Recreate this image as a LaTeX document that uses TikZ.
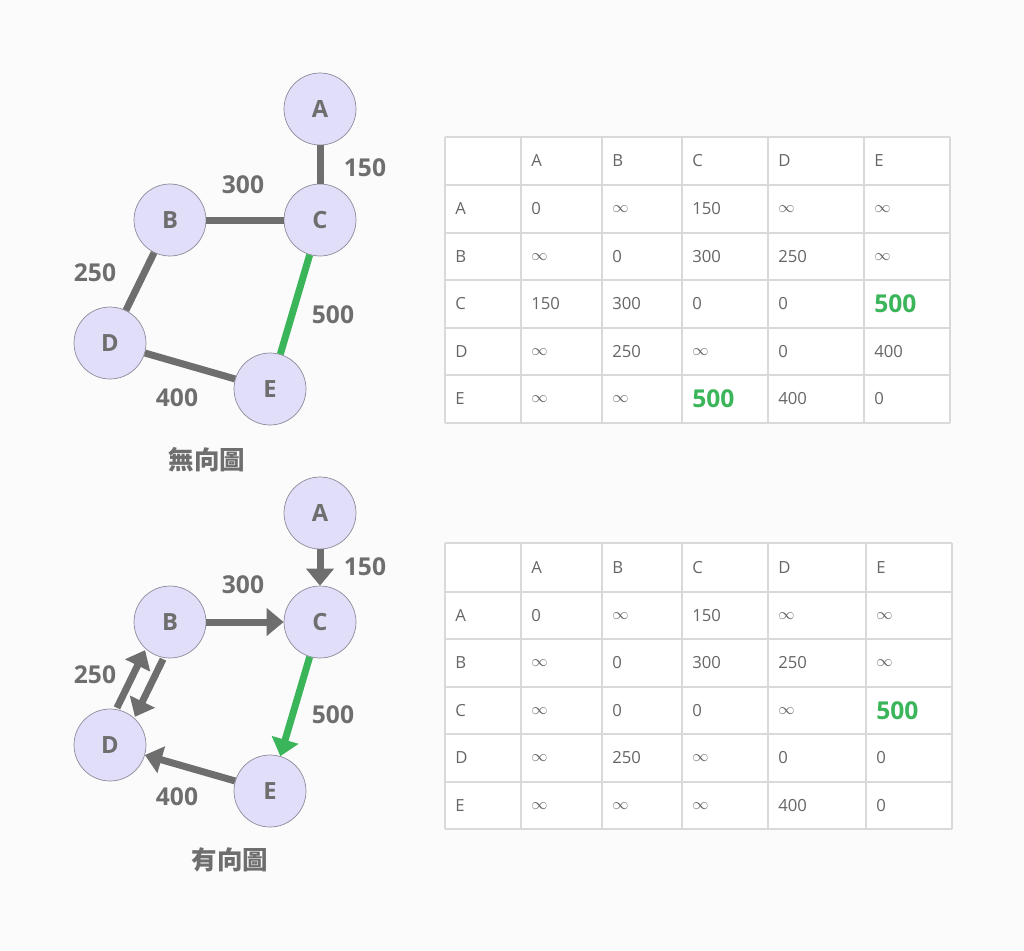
\documentclass[tikz,border=0pt]{standalone}
\usepackage{fontspec}
\setmainfont{Open Sans}
\newfontfamily\cjk{Noto Sans CJK TC}
\usetikzlibrary{positioning,arrows.meta}

\definecolor{edgegray}{HTML}{6E6E6E}
\definecolor{pathgreen}{HTML}{3BB55A}
\definecolor{nodefill}{HTML}{E1DEFA}
\definecolor{nodeline}{HTML}{8C8A99}
\definecolor{gridgray}{HTML}{D9D9D9}
\definecolor{celltext}{HTML}{666666}
\definecolor{bg}{HTML}{FBFBFB}

\newcommand{\infsym}{\ensuremath{\infty}}
\newcommand{\hl}[1]{{\color{pathgreen}\fontsize{14}{14}\selectfont\bfseries #1}}

\begin{document}
\begin{tikzpicture}[
  x=0.02cm, y=-0.02cm,
  vertex/.style={circle, draw=nodeline, fill=nodefill, minimum size=1.44cm, inner sep=0pt, font=\fontsize{13.5}{14}\selectfont\bfseries, text=edgegray},
  edge/.style={draw=edgegray, line width=0.14cm},
  arrow/.style={edge, -{Triangle[width=0.54cm, length=0.34cm]}},
  weight/.style={font=\fontsize{14}{14}\selectfont\bfseries, text=edgegray},
  caption/.style={font=\cjk\fontsize{14.5}{15}\selectfont\bfseries, text=edgegray},
  cell/.style={anchor=west, inner sep=0pt, font=\fontsize{9.5}{10}\selectfont, text=celltext},
  grid/.style={draw=gridgray, line width=0.6pt}
]
  \fill[bg] (0,0) rectangle (1024,950);
  \useasboundingbox (0,0) rectangle (1024,950);

  % undirected graph
  \node[vertex] (uA) at (320,109) {A};
  \node[vertex] (uB) at (170,220) {B};
  \node[vertex] (uC) at (320,220) {C};
  \node[vertex] (uD) at (110,343) {D};
  \node[vertex] (uE) at (270,389) {E};
  \draw[edge] (uA) -- (uC);
  \draw[edge] (uB) -- (uC);
  \draw[edge] (uB) -- (uD);
  \draw[edge] (uD) -- (uE);
  \draw[edge, draw=pathgreen] (uC) -- (uE);
  \node[weight] (uwAC) at (365,168) {150};
  \node[weight] (uwBC) at (243,185) {300};
  \node[weight] (uwBD) at (95,273) {250};
  \node[weight] (uwCE) at (333,315) {500};
  \node[weight] (uwDE) at (177,398) {400};
  \node[caption] (ucap) at (207,460) {無向圖};

  % directed graph
  \node[vertex] (dA) at (320,513) {A};
  \node[vertex] (dB) at (170,622) {B};
  \node[vertex] (dC) at (320,622) {C};
  \node[vertex] (dD) at (110,745) {D};
  \node[vertex] (dE) at (270,791) {E};
  \draw[arrow] (dA) -- (dC);
  \draw[arrow] (dB) -- (dC);
  \draw[arrow, transform canvas={shift={(0.18cm,-0.09cm)}}] (dB) -- (dD);
  \draw[arrow, transform canvas={shift={(-0.18cm,0.09cm)}}] (dD) -- (dB);
  \draw[arrow] (dE) -- (dD);
  \draw[arrow, draw=pathgreen, fill=pathgreen] (dC) -- (dE);
  \node[weight] (dwAC) at (365,567) {150};
  \node[weight] (dwBC) at (243,585) {300};
  \node[weight] (dwBD) at (95,675) {250};
  \node[weight] (dwCE) at (333,715) {500};
  \node[weight] (dwDE) at (177,797) {400};
  \node[caption] (dcap) at (230,860) {有向圖};

  % matrix of the undirected graph
  \begin{scope}[shift={(445,137)}]
    \fill[white] (0,0) rectangle (505,286);
    \foreach \cx in {0,76,157,237,323,419,505}
      \draw[grid] (\cx,0) -- (\cx,286);
    \foreach \ry in {0,48,96,143,191,238,286}
      \draw[grid] (0,\ry) -- (505,\ry);
    \foreach \cx/\h in {86/A,167/B,247/C,333/D,429/E}
      \node[cell] (ucol-\h) at (\cx,24) {\h};
    \foreach \ry/\h/\va/\vb/\vc/\vd/\ve in {
        72/A/0/\infsym/150/\infsym/\infsym,
        120/B/\infsym/0/300/250/\infsym,
        167/C/150/300/0/0/{\hl{500}},
        215/D/\infsym/250/\infsym/0/400,
        262/E/\infsym/\infsym/{\hl{500}}/400/0}{
      \node[cell] (urow-\h) at (10,\ry) {\h};
      \node[cell] (u-\h-A) at (86,\ry) {\va};
      \node[cell] (u-\h-B) at (167,\ry) {\vb};
      \node[cell] (u-\h-C) at (247,\ry) {\vc};
      \node[cell] (u-\h-D) at (333,\ry) {\vd};
      \node[cell] (u-\h-E) at (429,\ry) {\ve};
    }
  \end{scope}

  % matrix of the directed graph
  \begin{scope}[shift={(445,543)}]
    \fill[white] (0,0) rectangle (507,286);
    \foreach \cx in {0,76,157,237,323,421,507}
      \draw[grid] (\cx,0) -- (\cx,286);
    \foreach \ry in {0,49,96,144,191,239,286}
      \draw[grid] (0,\ry) -- (507,\ry);
    \foreach \cx/\h in {86/A,167/B,247/C,333/D,431/E}
      \node[cell] (dcol-\h) at (\cx,25) {\h};
    \foreach \ry/\h/\va/\vb/\vc/\vd/\ve in {
        73/A/0/\infsym/150/\infsym/\infsym,
        120/B/\infsym/0/300/250/\infsym,
        168/C/\infsym/0/0/\infsym/{\hl{500}},
        215/D/\infsym/250/\infsym/0/0,
        263/E/\infsym/\infsym/\infsym/400/0}{
      \node[cell] (drow-\h) at (10,\ry) {\h};
      \node[cell] (d-\h-A) at (86,\ry) {\va};
      \node[cell] (d-\h-B) at (167,\ry) {\vb};
      \node[cell] (d-\h-C) at (247,\ry) {\vc};
      \node[cell] (d-\h-D) at (333,\ry) {\vd};
      \node[cell] (d-\h-E) at (431,\ry) {\ve};
    }
  \end{scope}
\end{tikzpicture}
\end{document}
